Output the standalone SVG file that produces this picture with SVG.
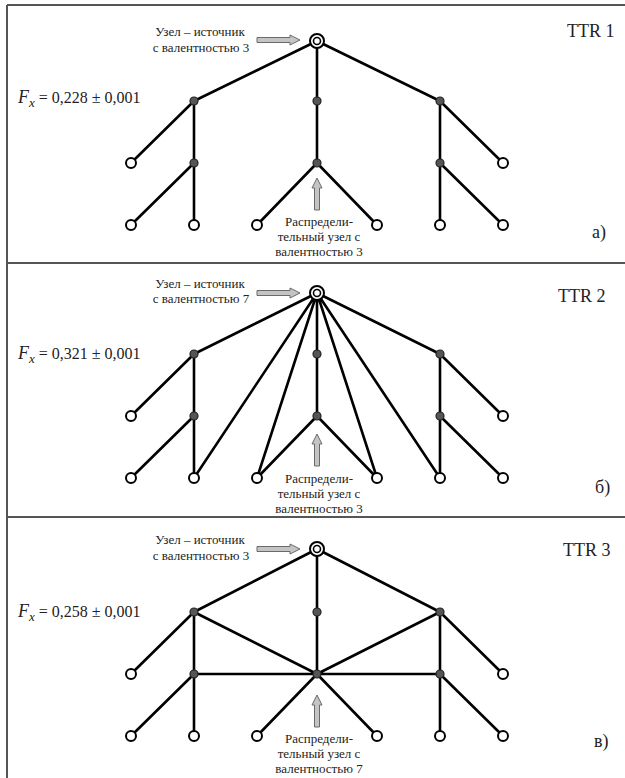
<svg xmlns="http://www.w3.org/2000/svg" width="625" height="778" viewBox="0 0 625 778">
<style>
.frame{stroke:#555;stroke-width:2;fill:none}
.e{stroke:#000;stroke-width:2.6;fill:none;stroke-linecap:round}
.leaf{fill:#fff;stroke:#000;stroke-width:2}
.mid{fill:#555;stroke:#222;stroke-width:1.2}
.src{fill:#fff;stroke:#000;stroke-width:2}
.src2{fill:#fff;stroke:#000;stroke-width:1.6}
.lbl{font-family:"Liberation Serif","DejaVu Serif",serif;font-size:13px;fill:#222;text-anchor:middle}
.ttr{font-family:"Liberation Serif","DejaVu Serif",serif;font-size:18px;fill:#222}
.fx{font-family:"Liberation Serif","DejaVu Serif",serif;font-size:16px;fill:#222}
.arr{fill:#c4c4c4;stroke:#6a6a6a;stroke-width:1}
</style>
<defs>
<g id="hArrow"><polygon class="arr" points="0,-2.5 33,-2.5 33,-5 43,0 33,5 33,2.5 0,2.5"/></g>
<g id="vArrow"><polygon class="arr" points="-2.5,32 -2.5,10 -5,10 0,0 5,10 2.5,10 2.5,32"/></g>
</defs>
<rect width="625" height="778" fill="#fff"/>
<g id="frame">
<line class="frame" x1="7" y1="5" x2="625" y2="5"/>
<line class="frame" x1="7" y1="5" x2="7" y2="778"/>
<line class="frame" x1="7" y1="263" x2="625" y2="263"/>
<line class="frame" x1="7" y1="517" x2="625" y2="517"/>
</g>
<g id="connectors">
<path class="e" d="M317,41L194,101M317,41L317,101L317,163M317,41L440,101M194,101L131,163M194,101L194,163L194,225M194,163L131,225M317,163L257,225M317,163L377,225M440,101L503,163M440,101L440,163L440,225M440,163L503,225"/>
<path class="e" d="M317,293L194,354M317,293L194,478M317,293L257,478M317,293L317,354L317,416M317,293L377,478M317,293L440,478M317,293L440,354M194,354L131,416M194,354L194,416L194,478M194,416L131,478M317,416L257,478M317,416L377,478M440,354L503,416M440,354L440,416L440,478M440,416L503,478"/>
<path class="e" d="M317,549L194,612M317,549L317,612L317,674M317,549L440,612M194,612L131,674M194,612L194,674L194,736M194,674L131,736M194,612L317,674M440,612L317,674M194,674L440,674M317,674L257,736M317,674L377,736M440,612L503,674M440,612L440,674L440,736M440,674L503,736"/>
</g>
<g id="panel1">
<g id="p1-source"><circle class="src" cx="317" cy="41" r="7"/><circle class="src2" cx="317" cy="41" r="3.5"/></g>
<g id="p1-m1"><circle class="mid" cx="194" cy="101" r="4"/></g>
<g id="p1-m2"><circle class="mid" cx="317" cy="101" r="4"/></g>
<g id="p1-m3"><circle class="mid" cx="440" cy="101" r="4"/></g>
<g id="p1-d1"><circle class="mid" cx="194" cy="163" r="4"/></g>
<g id="p1-d2"><circle class="mid" cx="317" cy="163" r="4"/></g>
<g id="p1-d3"><circle class="mid" cx="440" cy="163" r="4"/></g>
<g id="p1-l1"><circle class="leaf" cx="131" cy="163" r="5"/></g>
<g id="p1-l2"><circle class="leaf" cx="503" cy="163" r="5"/></g>
<g id="p1-b1"><circle class="leaf" cx="131" cy="225" r="5"/></g>
<g id="p1-b2"><circle class="leaf" cx="194" cy="225" r="5"/></g>
<g id="p1-b3"><circle class="leaf" cx="257" cy="225" r="5"/></g>
<g id="p1-b4"><circle class="leaf" cx="377" cy="225" r="5"/></g>
<g id="p1-b5"><circle class="leaf" cx="440" cy="225" r="5"/></g>
<g id="p1-b6"><circle class="leaf" cx="503" cy="225" r="5"/></g>
<use href="#hArrow" x="257" y="40"/>
<use href="#vArrow" x="317" y="178"/>
<text class="lbl" x="200" y="36">Узел – источник</text>
<text class="lbl" x="201" y="52">с валентностью 3</text>
<text class="lbl" x="319" y="226">Распредели-</text>
<text class="lbl" x="319" y="241">тельный узел с</text>
<text class="lbl" x="319" y="256">валентностью 3</text>
<text class="ttr" x="567" y="37">TTR 1</text>
<text class="ttr" x="592" y="238">а)</text>
<text class="fx" x="18" y="103"><tspan font-style="italic" font-size="18">F</tspan><tspan font-style="italic" font-size="13" dy="4">x</tspan><tspan dy="-4"> = 0,228 ± 0,001</tspan></text>
</g>
<g id="panel2">
<g id="p2-source"><circle class="src" cx="317" cy="293" r="7"/><circle class="src2" cx="317" cy="293" r="3.5"/></g>
<g id="p2-m1"><circle class="mid" cx="194" cy="354" r="4"/></g>
<g id="p2-m2"><circle class="mid" cx="317" cy="354" r="4"/></g>
<g id="p2-m3"><circle class="mid" cx="440" cy="354" r="4"/></g>
<g id="p2-d1"><circle class="mid" cx="194" cy="416" r="4"/></g>
<g id="p2-d2"><circle class="mid" cx="317" cy="416" r="4"/></g>
<g id="p2-d3"><circle class="mid" cx="440" cy="416" r="4"/></g>
<g id="p2-l1"><circle class="leaf" cx="131" cy="416" r="5"/></g>
<g id="p2-l2"><circle class="leaf" cx="503" cy="416" r="5"/></g>
<g id="p2-b1"><circle class="leaf" cx="131" cy="478" r="5"/></g>
<g id="p2-b2"><circle class="leaf" cx="194" cy="478" r="5"/></g>
<g id="p2-b3"><circle class="leaf" cx="257" cy="478" r="5"/></g>
<g id="p2-b4"><circle class="leaf" cx="377" cy="478" r="5"/></g>
<g id="p2-b5"><circle class="leaf" cx="440" cy="478" r="5"/></g>
<g id="p2-b6"><circle class="leaf" cx="503" cy="478" r="5"/></g>
<use href="#hArrow" x="257" y="293"/>
<use href="#vArrow" x="317" y="434"/>
<text class="lbl" x="200" y="288">Узел – источник</text>
<text class="lbl" x="201" y="303">с валентностью 7</text>
<text class="lbl" x="319" y="483">Распредели-</text>
<text class="lbl" x="319" y="498">тельный узел с</text>
<text class="lbl" x="319" y="513">валентностью 3</text>
<text class="ttr" x="558" y="302">TTR 2</text>
<text class="ttr" x="595" y="493">б)</text>
<text class="fx" x="18" y="359"><tspan font-style="italic" font-size="18">F</tspan><tspan font-style="italic" font-size="13" dy="4">x</tspan><tspan dy="-4"> = 0,321 ± 0,001</tspan></text>
</g>
<g id="panel3">
<g id="p3-source"><circle class="src" cx="317" cy="549" r="7"/><circle class="src2" cx="317" cy="549" r="3.5"/></g>
<g id="p3-m1"><circle class="mid" cx="194" cy="612" r="4"/></g>
<g id="p3-m2"><circle class="mid" cx="317" cy="612" r="4"/></g>
<g id="p3-m3"><circle class="mid" cx="440" cy="612" r="4"/></g>
<g id="p3-d1"><circle class="mid" cx="194" cy="674" r="4"/></g>
<g id="p3-d2"><circle class="mid" cx="317" cy="674" r="4"/></g>
<g id="p3-d3"><circle class="mid" cx="440" cy="674" r="4"/></g>
<g id="p3-l1"><circle class="leaf" cx="131" cy="674" r="5"/></g>
<g id="p3-l2"><circle class="leaf" cx="503" cy="674" r="5"/></g>
<g id="p3-b1"><circle class="leaf" cx="131" cy="736" r="5"/></g>
<g id="p3-b2"><circle class="leaf" cx="194" cy="736" r="5"/></g>
<g id="p3-b3"><circle class="leaf" cx="257" cy="736" r="5"/></g>
<g id="p3-b4"><circle class="leaf" cx="377" cy="736" r="5"/></g>
<g id="p3-b5"><circle class="leaf" cx="440" cy="736" r="5"/></g>
<g id="p3-b6"><circle class="leaf" cx="503" cy="736" r="5"/></g>
<use href="#hArrow" x="257" y="549"/>
<use href="#vArrow" x="317" y="695"/>
<text class="lbl" x="200" y="544">Узел – источник</text>
<text class="lbl" x="201" y="560">с валентностью 3</text>
<text class="lbl" x="319" y="743">Распредели-</text>
<text class="lbl" x="319" y="758">тельный узел с</text>
<text class="lbl" x="319" y="773">валентностью 7</text>
<text class="ttr" x="563" y="556">TTR 3</text>
<text class="ttr" x="594" y="747">в)</text>
<text class="fx" x="18" y="617"><tspan font-style="italic" font-size="18">F</tspan><tspan font-style="italic" font-size="13" dy="4">x</tspan><tspan dy="-4"> = 0,258 ± 0,001</tspan></text>
</g>
</svg>
